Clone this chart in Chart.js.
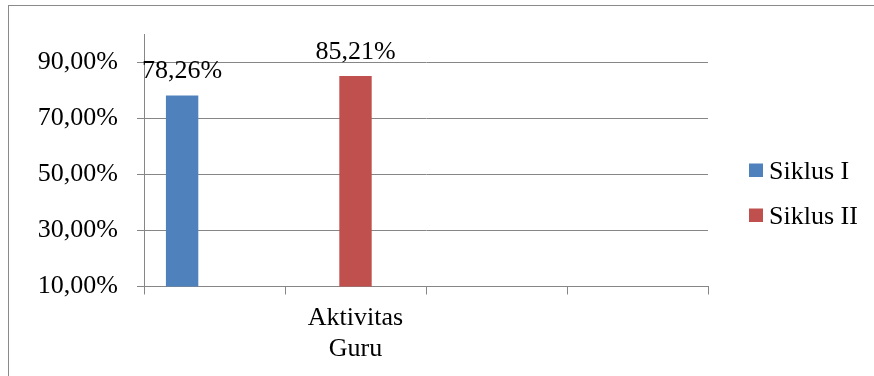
<!DOCTYPE html>
<html>
<head>
<meta charset="utf-8">
<script src="https://cdn.jsdelivr.net/npm/chart.js@4/dist/chart.umd.min.js"></script>
<style>
  html, body { margin: 0; padding: 0; background: #ffffff; }
  canvas { display: block; }
</style>
</head>
<body>
<canvas id="chart" width="874" height="376"></canvas>
<script>
// Categories along the x axis (only the second one carries a label)
const categories = ['', ['Aktivitas', 'Guru'], '', ''];
// Series values in percent
const siklusI = [78.26, null, null, null];
const siklusII = [null, 85.21, null, null];
const emptySeries = [null, null, null, null];
// Value axis ticks
const yTicks = [10, 30, 50, 70, 90];

const seriesNames = ['Siklus I', 'Siklus II', ''];
const seriesColors = ['#4F81BD', '#C0504D', '#9BBB59'];

const FONT = 'Liberation Serif';
const GRID = '#868686';

const pct = v => v.toFixed(2).replace('.', ',') + '%';

// Frame around the whole chart
const framePlugin = {
  id: 'frame',
  beforeDraw(chart) {
    const ctx = chart.ctx;
    ctx.save();
    ctx.strokeStyle = '#8a8a8a';
    ctx.lineWidth = 1;
    ctx.strokeRect(8.5, 5.5, 1000, 500);
    ctx.restore();
  }
};

// Value labels above each bar
const valueLabels = {
  id: 'valueLabels',
  afterDatasetsDraw(chart) {
    const ctx = chart.ctx;
    ctx.save();
    ctx.font = '26px "' + FONT + '"';
    ctx.fillStyle = '#000';
    ctx.textAlign = 'center';
    ctx.textBaseline = 'alphabetic';
    chart.data.datasets.forEach((ds, i) => {
      const meta = chart.getDatasetMeta(i);
      meta.data.forEach((bar, j) => {
        const v = ds.data[j];
        if (v === null || v === undefined) return;
        ctx.fillText(pct(v), bar.x, bar.y - 17);
      });
    });
    ctx.restore();
  }
};

// Legend on the right side
const sideLegend = {
  id: 'sideLegend',
  afterDraw(chart) {
    const ctx = chart.ctx;
    ctx.save();
    ctx.font = '26px "' + FONT + '"';
    ctx.textAlign = 'left';
    ctx.textBaseline = 'alphabetic';
    let y = 163.5;
    chart.data.datasets.forEach(ds => {
      if (!ds.label) return;
      ctx.fillStyle = ds.backgroundColor;
      ctx.fillRect(749, y, 14, 13.5);
      ctx.fillStyle = '#000';
      ctx.fillText(ds.label, 769, y + 15);
      y += 45;
    });
    ctx.restore();
  }
};

new Chart(document.getElementById('chart'), {
  type: 'bar',
  data: {
    labels: categories,
    datasets: [
      { label: seriesNames[0], data: siklusI, backgroundColor: seriesColors[0] },
      { label: seriesNames[1], data: siklusII, backgroundColor: seriesColors[1] },
      { label: seriesNames[2], data: emptySeries, backgroundColor: seriesColors[2] }
    ]
  },
  options: {
    responsive: false,
    animation: false,
    devicePixelRatio: 1,
    layout: { padding: { left: 0, top: 34, right: 166, bottom: 0 } },
    datasets: {
      bar: { categoryPercentage: 0.689, barPercentage: 1.0, borderWidth: 0 }
    },
    plugins: {
      legend: { display: false },
      tooltip: { enabled: false }
    },
    scales: {
      x: {
        offset: true,
        grid: {
          display: true,
          drawOnChartArea: false,
          drawTicks: true,
          tickLength: 8,
          offset: true,
          color: GRID,
          lineWidth: 1
        },
        border: { display: true, color: GRID, width: 1 },
        ticks: {
          color: '#000',
          font: { family: FONT, size: 26, lineHeight: 1.16 },
          padding: 9,
          maxRotation: 0,
          autoSkip: false
        },
        afterFit(scale) { scale.height = 89.5; }
      },
      y: {
        min: 10,
        max: 100,
        afterBuildTicks(scale) {
          scale.ticks = yTicks.map(v => ({ value: v }));
        },
        grid: {
          color: GRID,
          lineWidth: 1,
          drawTicks: true,
          tickLength: 7
        },
        border: { display: true, color: GRID, width: 1 },
        ticks: {
          color: '#000',
          font: { family: FONT, size: 26 },
          padding: 19,
          callback: v => pct(v)
        },
        afterFit(scale) { scale.width = 144; }
      }
    }
  },
  plugins: [framePlugin, valueLabels, sideLegend]
});
</script>
</body>
</html>
